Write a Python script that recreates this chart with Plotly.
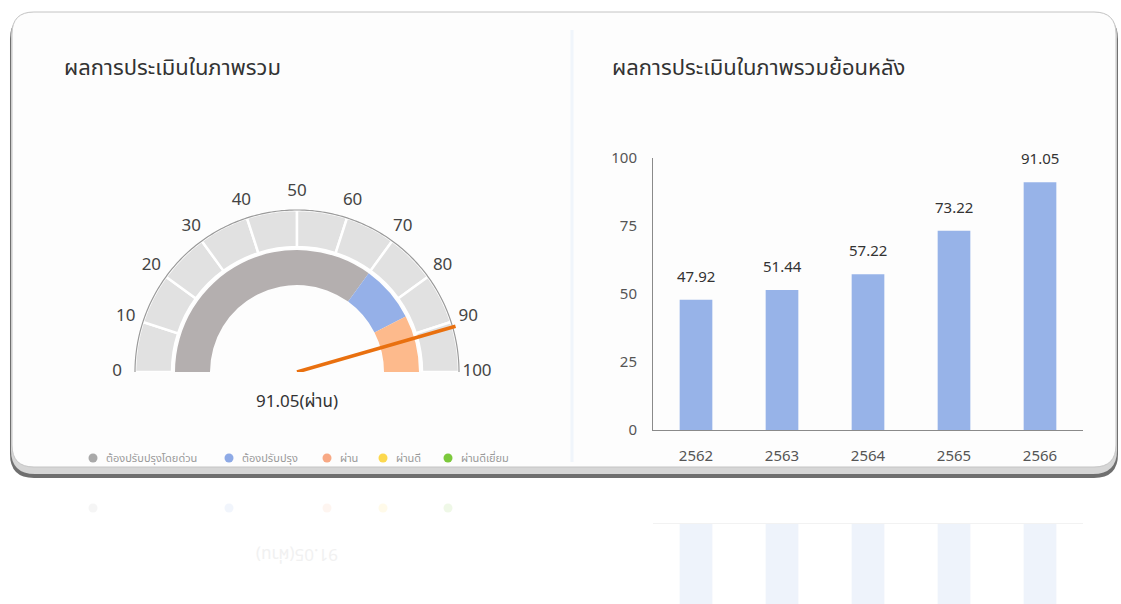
import plotly.graph_objects as go

W, H = 1121, 604

# ---------------- data ----------------
gauge_title = "ผลการประเมินในภาพรวม"
bar_title = "ผลการประเมินในภาพรวมย้อนหลัง"
gauge_value = 91.05
gauge_label = "91.05(ผ่าน)"
gauge_ticks = [0, 10, 20, 30, 40, 50, 60, 70, 80, 90, 100]
band_edges = [0, 70, 85, 100]
band_colors = ["#b4afaf", "#95b0e8", "#fdba8c"]
legend_names = ["ต้องปรับปรุงโดยด่วน", "ต้องปรับปรุง", "ผ่าน", "ผ่านดี", "ผ่านดีเยี่ยม"]
legend_colors = ["#a9a9a9", "#8eaae6", "#f8a985", "#fcd84e", "#7cc93c"]
years = ["2562", "2563", "2564", "2565", "2566"]
scores = [47.92, 51.44, 57.22, 73.22, 91.05]
bar_ticks = [0, 25, 50, 75, 100]

# layout-only positions (pixels) for the legend items
legend_dot_x = [93, 229, 327, 383, 448]
LEGEND_Y = 458
MIRROR_Y = 478  # reflection axis of the dashboard card

FONT = "Noto Sans Thai, Noto Sans, Open Sans, sans-serif"


def deg(v):
    return v / 100 * 180


def px(x, y):
    return f"{x / W:.5f},{1 - y / H:.5f}"


def rrect(x0, y0, x1, y1, r):
    return (f"M {px(x0 + r, y0)} L {px(x1 - r, y0)} Q {px(x1, y0)} {px(x1, y0 + r)} "
            f"L {px(x1, y1 - r)} Q {px(x1, y1)} {px(x1 - r, y1)} "
            f"L {px(x0 + r, y1)} Q {px(x0, y1)} {px(x0, y1 - r)} "
            f"L {px(x0, y0 + r)} Q {px(x0, y0)} {px(x0 + r, y0)} Z")


fig = go.Figure()

# ---------------- gauge ----------------
R_OUT, R_MID, R_IN0, R_IN1 = 162, 125, 87, 122
seg_theta = [deg((a + b) / 2) for a, b in zip(gauge_ticks[:-1], gauge_ticks[1:])]
seg_width = [deg(b - a) for a, b in zip(gauge_ticks[:-1], gauge_ticks[1:])]
fig.add_trace(go.Barpolar(
    r=[R_OUT - R_MID] * len(seg_theta), base=R_MID, theta=seg_theta, width=seg_width,
    marker=dict(color="#e1e1e1", line=dict(color="white", width=2.5)),
    showlegend=False, hoverinfo="skip"))
fig.add_trace(go.Barpolar(
    r=[R_IN1 - R_IN0] * 3, base=R_IN0,
    theta=[deg((a + b) / 2) for a, b in zip(band_edges[:-1], band_edges[1:])],
    width=[deg(b - a) for a, b in zip(band_edges[:-1], band_edges[1:])],
    marker=dict(color=band_colors, line=dict(width=0)),
    showlegend=False, hoverinfo="skip"))
arc_vals = [i / 2 for i in range(0, 201)]
fig.add_trace(go.Scatterpolar(
    r=[R_OUT] * len(arc_vals), theta=[deg(v) for v in arc_vals], mode="lines",
    line=dict(color="#9a9a9a", width=1.2), showlegend=False, hoverinfo="skip"))
fig.add_trace(go.Scatterpolar(
    r=[0, 165], theta=[deg(gauge_value)] * 2, mode="lines",
    line=dict(color="#e9700f", width=3.5), showlegend=False, hoverinfo="skip"))
fig.add_trace(go.Scatterpolar(
    r=[180] * len(gauge_ticks), theta=[deg(t) for t in gauge_ticks], mode="text",
    text=[str(t) for t in gauge_ticks], textfont=dict(size=17, color="#444", family=FONT),
    showlegend=False, hoverinfo="skip"))

# ---------------- bars ----------------
fig.add_trace(go.Bar(
    x=years, y=scores, width=0.38, marker=dict(color="#97b3e8", line=dict(width=0)),
    showlegend=False, hoverinfo="skip", xaxis="x", yaxis="y"))

# faint reflection of the bars below the card
fig.add_trace(go.Bar(
    x=years, y=scores, width=0.38,
    marker=dict(color="rgba(151,179,232,0.16)", line=dict(width=0)),
    showlegend=False, hoverinfo="skip", xaxis="x3", yaxis="y3"))

annotations = [
    dict(text=gauge_title, x=62 / W, y=1 - 68 / H, xref="paper", yref="paper",
         xanchor="left", yanchor="middle", showarrow=False,
         font=dict(size=22, color="#333", family=FONT)),
    dict(text=bar_title, x=610 / W, y=1 - 68 / H, xref="paper", yref="paper",
         xanchor="left", yanchor="middle", showarrow=False,
         font=dict(size=22, color="#333", family=FONT)),
    dict(text=gauge_label, x=297 / W, y=1 - 402 / H, xref="paper", yref="paper",
         xanchor="center", yanchor="middle", showarrow=False,
         font=dict(size=17, color="#333", family=FONT)),
    dict(text=gauge_label, x=297 / W, y=1 - (2 * MIRROR_Y - 402) / H, xref="paper",
         yref="paper", xanchor="center", yanchor="middle", showarrow=False,
         textangle=180, font=dict(size=17, color="#f1f1f1", family=FONT)),
]
for i, s in enumerate(scores):
    annotations.append(dict(text=f"{s:.2f}", x=i, y=s, xref="x", yref="y",
                            xanchor="center", yanchor="bottom", yshift=9, showarrow=False,
                            font=dict(size=15, color="#333", family=FONT)))

shapes = [
    dict(type="path", path=rrect(10, 15, 1118, 478, 24), xref="paper", yref="paper",
         fillcolor="#6f6f6f", line=dict(width=0), layer="below"),
    dict(type="path", path=rrect(11, 12, 1117, 474, 24), xref="paper", yref="paper",
         fillcolor="#d6d6d6", line=dict(width=0), layer="below"),
    dict(type="path", path=rrect(12, 12, 1116, 467, 22), xref="paper", yref="paper",
         fillcolor="#fdfdfd", line=dict(color="#c4c4c4", width=1), layer="below"),
    dict(type="line", x0=572 / W, x1=572 / W, y0=1 - 462 / H, y1=1 - 30 / H,
         xref="paper", yref="paper", line=dict(color="#f0f5fb", width=3), layer="below"),
]

# legend (drawn manually to match the compact dashboard legend)
for name, col, dx in zip(legend_names, legend_colors, legend_dot_x):
    shapes.append(dict(type="circle", xref="paper", yref="paper",
                       x0=(dx - 4.5) / W, x1=(dx + 4.5) / W,
                       y0=1 - (LEGEND_Y + 4.5) / H, y1=1 - (LEGEND_Y - 4.5) / H,
                       fillcolor=col, line=dict(width=0)))
    annotations.append(dict(text=name, x=(dx + 11) / W, y=1 - LEGEND_Y / H,
                            xref="paper", yref="paper", xanchor="left", yanchor="middle",
                            showarrow=False, font=dict(size=11, color="#9a9a9a", family=FONT)))
    # faint reflected legend dot
    ry = 2 * MIRROR_Y - LEGEND_Y + 10
    shapes.append(dict(type="circle", xref="paper", yref="paper",
                       x0=(dx - 4.5) / W, x1=(dx + 4.5) / W,
                       y0=1 - (ry + 4.5) / H, y1=1 - (ry - 4.5) / H,
                       fillcolor=col, opacity=0.12, line=dict(width=0)))

# reflected axis geometry: 0 line mirrored about the card bottom
ref_zero = 2 * MIRROR_Y - 430 - 2
ref_max = (H - ref_zero) / (430 - 158) * 100

fig.update_layout(
    width=W, height=H, margin=dict(l=0, r=0, t=0, b=0, autoexpand=False),
    paper_bgcolor="white", plot_bgcolor="rgba(0,0,0,0)",
    font=dict(family=FONT, color="#444"),
    showlegend=False,
    polar=dict(
        domain=dict(x=[97 / W, 497 / W], y=[1 - 372 / H, 1 - 172 / H]),
        sector=[0, 180], bgcolor="rgba(0,0,0,0)", bargap=0,
        radialaxis=dict(range=[0, 200], visible=False),
        angularaxis=dict(visible=False, direction="clockwise", rotation=180,
                         thetaunit="degrees")),
    xaxis=dict(domain=[653 / W, 1083 / W], anchor="y", type="category",
               range=[-0.5, 4.5], showline=True, linecolor="#8a8a8a", linewidth=1,
               showgrid=False, ticks="", ticklabelstandoff=12, automargin=False,
               tickfont=dict(size=15, color="#555", family=FONT), fixedrange=True),
    yaxis=dict(domain=[1 - 430 / H, 1 - 158 / H], anchor="x", range=[0, 100],
               tickvals=bar_ticks, showline=True, linecolor="#8a8a8a", linewidth=1,
               showgrid=False, zeroline=False, ticks="", ticklabelstandoff=12,
               automargin=False,
               tickfont=dict(size=15, color="#555", family=FONT), fixedrange=True),
    xaxis3=dict(domain=[653 / W, 1083 / W], anchor="y3", type="category",
                range=[-0.5, 4.5], side="top", showline=True, linecolor="#f2f2f2",
                showgrid=False, ticks="", showticklabels=False, fixedrange=True),
    yaxis3=dict(domain=[0, 1 - ref_zero / H], anchor="x3", range=[ref_max, 0],
                showline=False, showgrid=False, zeroline=False, showticklabels=False,
                fixedrange=True),
    annotations=annotations, shapes=shapes,
)

fig.write_html("out.html", config={"displayModeBar": False},
               post_script="document.body.style.margin='0px';")
